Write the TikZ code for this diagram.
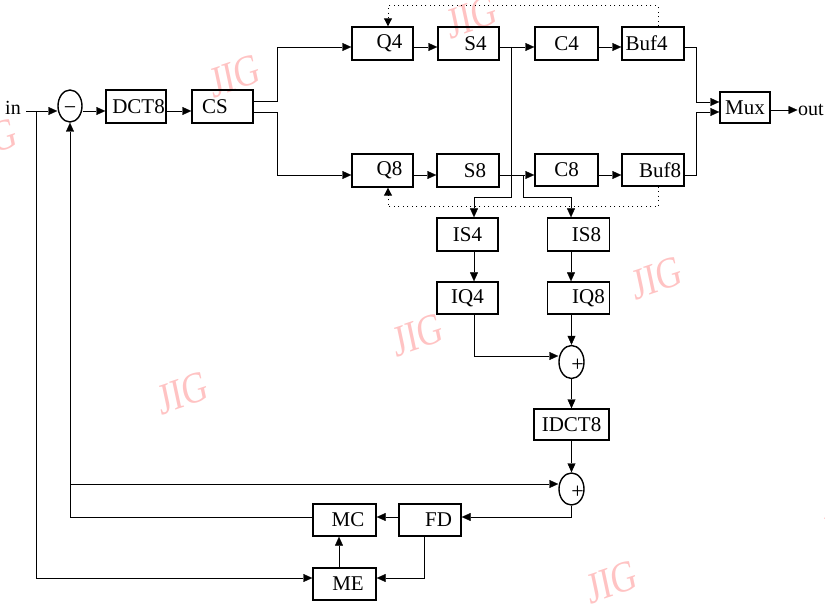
\documentclass[tikz,border=0pt]{standalone}
\usepackage{fontspec}
\setmainfont{Liberation Serif}
\usetikzlibrary{arrows.meta,shapes.geometric,calc,backgrounds}
\begin{document}
\begin{tikzpicture}[x=1pt,y=-1pt,
  line width=1.4pt,
  box/.style={draw, rectangle, inner sep=0pt, minimum height=33pt, font=\fontsize{21}{24}\selectfont},
  sumc/.style={draw, ellipse, inner sep=0pt, minimum width=25pt, minimum height=33pt},
  sign/.style={inner sep=0pt, font=\fontsize{22}{24}\selectfont},
  lbl/.style={inner sep=0pt, font=\fontsize{20}{24}\selectfont},
  arr/.style={-{Triangle[length=9pt,width=8pt]}},
  dotl/.style={dash pattern=on 1.2pt off 3.3pt, line width=1pt},
  dtip/.style={-{Triangle[length=8pt,width=8pt]}},
  wm/.style={text={rgb,255:red,255;green,195;blue,195}, font=\fontsize{44}{44}\selectfont, xscale=0.8, rotate=15, inner sep=0pt},
]
\useasboundingbox (0,0) rectangle (825,604);

% labels
\node[lbl] (inl) at (13,108) {in};
\node[lbl] (outl) at (811,110) {out};

% summing junctions
\node[sumc, minimum width=24pt, minimum height=32pt] (sub) at (70,106) {};
\node[sign] (subm) at ([yshift=-5pt]sub.center) {−};
\node[sumc] (sum1) at (571.5,362) {};
\node[sign] (s1p) at ([xshift=6pt,yshift=-3pt]sum1.center) {+};
\node[sumc, minimum height=32pt] (sum2) at (571.5,489) {};
\node[sign] (s2p) at ([xshift=6pt,yshift=-3pt]sum2.center) {+};

% boxes
\node[box, minimum width=60pt] (dct) at (136,106.5) {\hspace*{5pt}DCT8};
\node[box, minimum width=61pt] (cs) at (222.5,106.5) {CS\hspace*{15pt}};
\node[box, minimum width=61pt] (q4) at (382.5,43.5) {\hspace*{14pt}Q4};
\node[box, minimum width=61pt] (s4) at (468.5,43.5) {\hspace*{14pt}S4};
\node[box, minimum width=63pt] (c4) at (566.5,43.5) {C4};
\node[box, minimum width=62pt] (buf4) at (653,43.5) {Buf4\hspace*{13pt}};
\node[box, minimum width=61pt] (q8) at (382.5,170.5) {\hspace*{14pt}Q8};
\node[box, minimum width=62pt] (s8) at (468,170.5) {\hspace*{14pt}S8};
\node[box, minimum width=63pt, minimum height=32pt] (c8) at (566.5,170) {C8};
\node[box, minimum width=62pt, minimum height=32pt] (buf8) at (653,170) {\hspace*{14pt}Buf8};
\node[box, minimum width=50pt, minimum height=31pt] (mux) at (745,107.5) {Mux};
\node[box, minimum width=61pt] (is4) at (467.5,234.5) {IS4};
\node[box, minimum width=62pt] (is8) at (578.5,234.5) {\hspace*{16pt}IS8};
\node[box, minimum width=61pt, minimum height=32pt] (iq4) at (467.5,298) {IQ4};
\node[box, minimum width=62pt, minimum height=32pt] (iq8) at (578.5,298) {\hspace*{20pt}IQ8};
\node[box, minimum width=75pt, minimum height=31pt] (idct) at (571.5,424.5) {IDCT8};
\node[box, minimum width=63pt, minimum height=32pt] (mc) at (344.5,520) {\hspace*{7pt}MC};
\node[box, minimum width=62pt, minimum height=32pt] (fd) at (430,520) {\hspace*{17pt}FD};
\node[box, minimum width=63pt, minimum height=32pt] (me) at (344.5,584) {\hspace*{7pt}ME};

% background: watermarks
\begin{pgfonlayer}{background}
\begin{scope}
\clip (0,0) rectangle (825,604);
\node[wm] (w1) at (235,76) {JIG};
\node[wm] (w2) at (472,17) {JIG};
\node[wm] (w3) at (-8,140) {JIG};
\node[wm] (w4) at (418,335) {JIG};
\node[wm] (w5) at (657,278) {JIG};
\node[wm] (w6) at (183,393) {JIG};
\node[wm] (w7) at (612,582) {JIG};
\node[wm] (w8) at (848,525) {JIG};
\end{scope}
\end{pgfonlayer}

% dotted buffer-fullness feedback to the quantisers
\draw[dotl, dtip] ([xshift=5pt]buf4.north) |- (388,6) -- ([xshift=5.5pt]q4.north);
\draw[dotl, dtip] ([xshift=5pt]buf8.south) |- (388,207) -- ([xshift=5.5pt]q8.south);

% junction coordinates
\coordinate (jin) at (36,111);
\coordinate (j2) at (70,484);
\coordinate (js4) at (511,47);
\coordinate (js8) at (523,175);

% main forward path
\draw[arr] ([xshift=5pt,yshift=-3pt]inl.east) -- ([yshift=-5pt]sub.west);
\draw[arr] ([yshift=-5pt]sub.east) -- ([yshift=-4.5pt]dct.west);
\draw[arr] ([yshift=-4.5pt]dct.east) -- ([yshift=-4.5pt]cs.west);
\draw[arr] ([yshift=5.5pt]cs.east) -- (277,101) |- ([yshift=-3.5pt]q4.west);
\draw[arr] ([yshift=-5.5pt]cs.east) -- (277,112) |- ([yshift=-4.5pt]q8.west);
\draw[arr] ([yshift=-3.5pt]q4.east) -- ([yshift=-3.5pt]s4.west);
\draw[arr] ([yshift=-3.5pt]s4.east) -- ([yshift=-3.5pt]c4.west);
\draw[arr] ([yshift=-3.5pt]c4.east) -- ([yshift=-3.5pt]buf4.west);
\draw[arr] ([yshift=-3.5pt]buf4.east) -- (696,47) |- ([yshift=5.5pt]mux.west);
\draw[arr] ([yshift=-4.5pt]q8.east) -- ([yshift=-4.5pt]s8.west);
\draw[arr] ([yshift=-4.5pt]s8.east) -- ([yshift=-5pt]c8.west);
\draw[arr] ([yshift=-5pt]c8.east) -- ([yshift=-5pt]buf8.west);
\draw[arr] ([yshift=-5pt]buf8.east) -- (696,175) |- ([yshift=-4.5pt]mux.west);
\draw[arr] ([yshift=-2.5pt]mux.east) -- (outl.west);

% inverse path
\draw[arr] (js4) -- (511,197) -| ([xshift=6.5pt]is4.north);
\draw[arr] (js8) -- (523,197) -| ([xshift=-7.5pt]is8.north);
\draw[arr] ([xshift=6.5pt]is4.south) -- ([xshift=6.5pt]iq4.north);
\draw[arr] ([xshift=-7.5pt]is8.south) -- ([xshift=-7.5pt]iq8.north);
\draw[arr] ([xshift=-7pt]iq8.south) -- (sum1.north);
\draw[arr] ([xshift=6.5pt]iq4.south) |- ([yshift=6pt]sum1.west);
\draw[arr] (sum1.south) -- (idct.north);
\draw[arr] (idct.south) -- (sum2.north);
\draw[arr] (sum2.south) |- ([yshift=3pt]fd.east);
\draw[arr] ([yshift=3pt]fd.west) -- ([yshift=3pt]mc.east);
\draw[arr] ([yshift=3pt]mc.west) -| (sub.south);
\draw[arr] (j2) -- ([yshift=5pt]sum2.west);
\draw[arr] (jin) |- ([yshift=6pt]me.west);
\draw[arr] ([xshift=-5.5pt]me.north) -- ([xshift=-5.5pt]mc.south);
\draw[arr] ([xshift=-6pt]fd.south) |- ([yshift=6pt]me.east);
\end{tikzpicture}
\end{document}
